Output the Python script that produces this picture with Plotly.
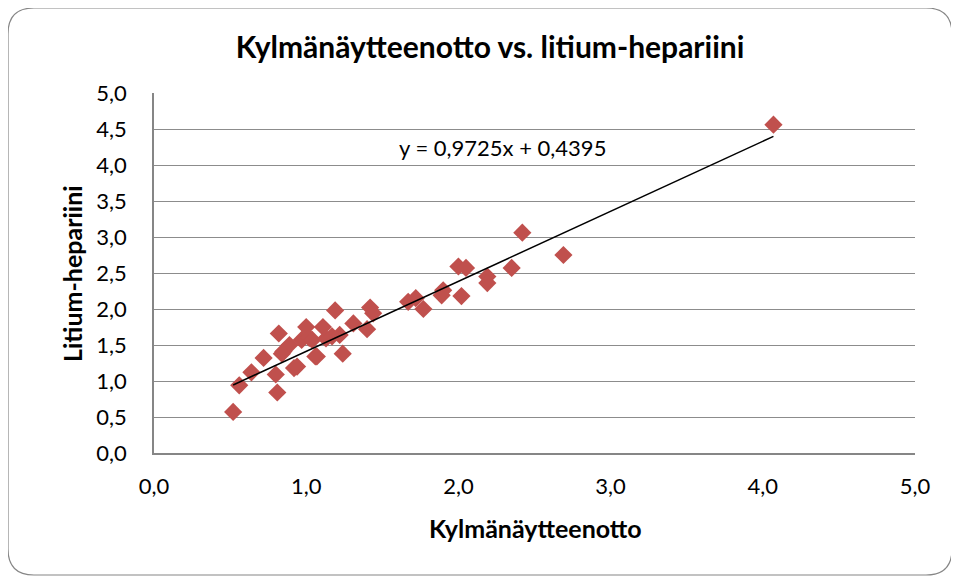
import plotly.graph_objects as go

title_text = "Kylmänäytteenotto vs. litium-hepariini"
x_title = "Kylmänäytteenotto"
y_title = "Litium-hepariini"

kylma = [0.52, 0.56, 0.64, 0.72, 0.82, 0.81, 0.80, 0.85, 0.89, 0.92, 0.94, 0.84,
         0.97, 1.00, 1.06, 1.02, 1.04, 1.11, 1.13, 1.07, 1.17, 1.19, 1.22, 1.24,
         1.31, 1.40, 1.42, 1.44, 1.67, 1.72, 1.77, 1.89, 1.90, 2.00, 2.02, 2.05,
         2.19, 2.19, 2.35, 2.42, 2.69, 4.07]
litium = [0.57, 0.94, 1.12, 1.32, 1.66, 0.84, 1.09, 1.41, 1.50, 1.18, 1.20, 1.38,
          1.57, 1.75, 1.34, 1.60, 1.57, 1.75, 1.59, 1.34, 1.62, 1.98, 1.64, 1.38,
          1.80, 1.72, 2.02, 1.94, 2.10, 2.15, 2.00, 2.19, 2.26, 2.59, 2.18, 2.57,
          2.45, 2.36, 2.57, 3.06, 2.75, 4.56]

slope = 0.9725
intercept = 0.4395
eq_text = "y = 0,9725x + 0,4395"

# page has an 8px body margin; work in page pixels and convert
OFF = 8
W, H = 959 - OFF, 580 - OFF
plot_l, plot_r, plot_t, plot_b = 154, 915, 93, 453
ml, mr = plot_l - OFF, (959 - plot_r)
mt, mb = plot_t - OFF, (580 - plot_b)
pw, ph = plot_r - plot_l, plot_b - plot_t

def px(x):
    return (x - plot_l) / pw

def py(y):
    return (plot_b - y) / ph

fig = go.Figure()

fig.add_trace(go.Scatter(x=kylma, y=litium, mode="markers",
                         marker=dict(symbol="diamond", size=14, color="#C0504D",
                                     line=dict(width=0)),
                         showlegend=False))
tx = [min(kylma), max(kylma)]
ty = [slope * v + intercept for v in tx]
fig.add_trace(go.Scatter(x=tx, y=ty, mode="lines",
                         line=dict(color="black", width=1.5),
                         hoverinfo="skip", showlegend=False))

# rounded chart border
x0, x1, y0, y1, r = 8, 952, 8, 575, 26
path = (f"M {px(x0+r)},{py(y0)} L {px(x1-r)},{py(y0)} "
        f"Q {px(x1)},{py(y0)} {px(x1)},{py(y0+r)} "
        f"L {px(x1)},{py(y1-r)} Q {px(x1)},{py(y1)} {px(x1-r)},{py(y1)} "
        f"L {px(x0+r)},{py(y1)} Q {px(x0)},{py(y1)} {px(x0)},{py(y1-r)} "
        f"L {px(x0)},{py(y0+r)} Q {px(x0)},{py(y0)} {px(x0+r)},{py(y0)} Z")
fig.add_shape(type="path", path=path, xref="paper", yref="paper",
              line=dict(color="#868686", width=1.2), layer="below")

font_family = "Lato, Open Sans, sans-serif"

fig.add_annotation(x=2.293, y=4.243, text=eq_text, showarrow=False,
                   font=dict(size=22, color="black", family=font_family))

# axis titles
fig.add_annotation(x=px(535), y=py(528), xref="paper", yref="paper",
                   text=f"<b>{x_title}</b>", showarrow=False,
                   xanchor="center", yanchor="middle",
                   font=dict(size=25, color="black", family=font_family))
fig.add_annotation(x=px(72), y=py(274), xref="paper", yref="paper",
                   text=f"<b>{y_title}</b>", showarrow=False, textangle=-90,
                   xanchor="center", yanchor="middle",
                   font=dict(size=25, color="black", family=font_family))

fig.update_layout(
    width=W, height=H,
    margin=dict(l=ml, r=mr, t=mt, b=mb),
    paper_bgcolor="white", plot_bgcolor="white",
    separators=", ",
    font=dict(family=font_family, color="black"),
    title=dict(text=f"<b>{title_text}</b>", x=(490 - OFF) / W, xanchor="center",
               y=1 - (47 - OFF) / H, yanchor="middle",
               font=dict(size=30, color="black", family=font_family)),
    xaxis=dict(range=[0, 5], dtick=1, tick0=0, tickformat=".1f",
               showgrid=False, zeroline=False,
               showline=True, linecolor="#868686", linewidth=1.5,
               ticks="", tickfont=dict(size=22), ticklabelstandoff=13),
    yaxis=dict(range=[0, 5], dtick=0.5, tick0=0, tickformat=".1f",
               showgrid=True, gridcolor="#8C8C8C", gridwidth=1.2,
               zeroline=False, showline=True, linecolor="#868686", linewidth=1.5,
               ticks="", tickfont=dict(size=22), ticklabelstandoff=21),
)

fig.write_html("out.html")
